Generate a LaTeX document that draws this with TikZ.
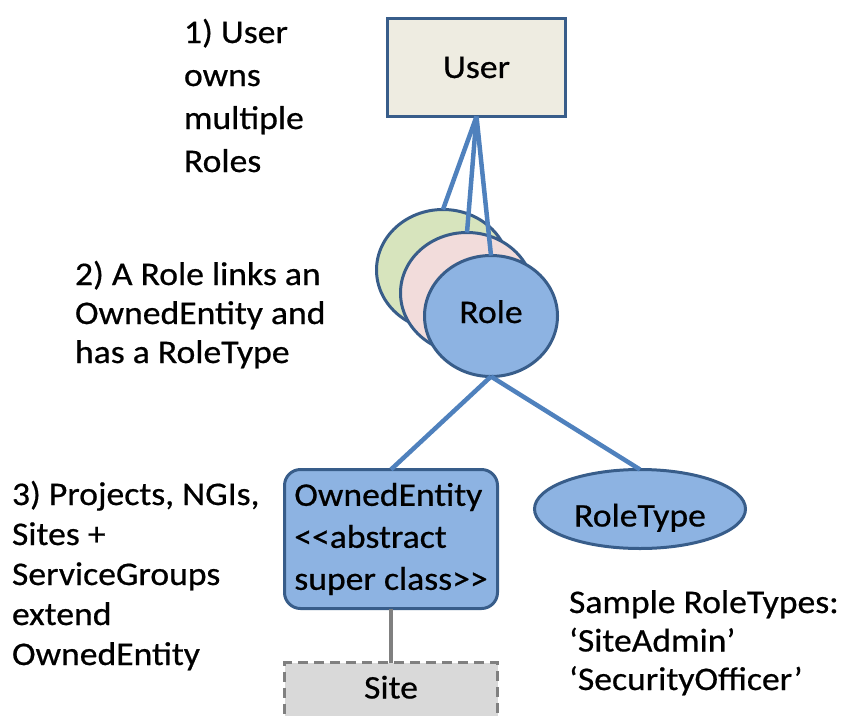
\documentclass[tikz,border=0pt]{standalone}
\usepackage{fontspec}
\setmainfont{Carlito}[FakeStretch=1.08, FakeBold=0.6, Ligatures=TeXOff]
\usetikzlibrary{shapes.geometric}
\definecolor{userfill}{HTML}{EEECE1}
\definecolor{edgeblue}{HTML}{385D8A}
\definecolor{linkblue}{HTML}{4F81BD}
\definecolor{rolefill}{HTML}{8DB3E2}
\definecolor{greenfill}{HTML}{D7E4BD}
\definecolor{pinkfill}{HTML}{F2DCDB}
\definecolor{sitefill}{HTML}{D9D9D9}
\definecolor{sitegray}{HTML}{808080}
\begin{document}
\begin{tikzpicture}[x=1pt,y=-1pt,
  every node/.style={inner sep=0pt, outer sep=0pt, font=\fontsize{33}{40}\selectfont},
  entity/.style={draw=edgeblue, line width=3pt},
  roleoval/.style={entity, ellipse, minimum width=133pt, minimum height=121pt},
  connector/.style={draw=linkblue, line width=4.5pt},
  grayconnector/.style={draw=sitegray, line width=4pt},
  note/.style={anchor=base west, align=left},
]
\useasboundingbox (0,0) rectangle (853,715);
% nodes
\node[entity, fill=userfill, minimum width=178pt, minimum height=98pt] (user) at (476.5,67.5) {User};
\node[roleoval, fill=greenfill] (role3) at (443,270) {};
\node[roleoval, fill=pinkfill] (role2) at (467,293) {};
\node[roleoval, fill=rolefill, text height=14pt, text depth=0pt] (role) at (491,316) {Role};
\node[entity, fill=rolefill, rounded corners=16pt, minimum width=213pt, minimum height=139pt,
      align=left, font=\fontsize{33}{42}\selectfont] (owned) at (391,539)
      {OwnedEntity\\<<abstract\\super class>>};
\node[entity, ellipse, fill=rolefill, minimum width=211pt, minimum height=79pt,
      text height=35pt, text depth=0pt] (rtype) at (640,509) {RoleType};
\node[draw=sitegray, fill=sitefill, line width=3.5pt, dash pattern=on 10pt off 6pt,
      minimum width=213pt, minimum height=61pt, text height=11pt, text depth=0pt] (site) at (391,693) {Site\hspace{18pt}};
% connectors
\draw[connector] (user.south) -- (role3.north);
\draw[connector] (user.south) -- (role2.north);
\draw[connector] (user.south) -- (role.north);
\draw[connector] (role.south) -- (owned.north);
\draw[connector] (role.south) -- (rtype.north);
\draw[grayconnector] (owned.south) -- (site.north);
% notes (anchored at the baseline of their last line)
\node[note, font=\fontsize{33}{43}\selectfont] (note1) at (184,172) {1) User\\owns\\multiple\\Roles};
\node[note, font=\fontsize{33}{39}\selectfont] (note2) at (75,363) {2) A Role links an\\OwnedEntity and\\has a RoleType};
\node[note, font=\fontsize{33}{40}\selectfont] (note3) at (12,665) {3) Projects, NGIs,\\Sites +\\ServiceGroups\\extend\\OwnedEntity};
\node[note, font=\fontsize{33}{38.5}\selectfont] (note4) at (569,690) {Sample RoleTypes:\\‘SiteAdmin’\\‘SecurityOfficer’};
\end{tikzpicture}
\end{document}
